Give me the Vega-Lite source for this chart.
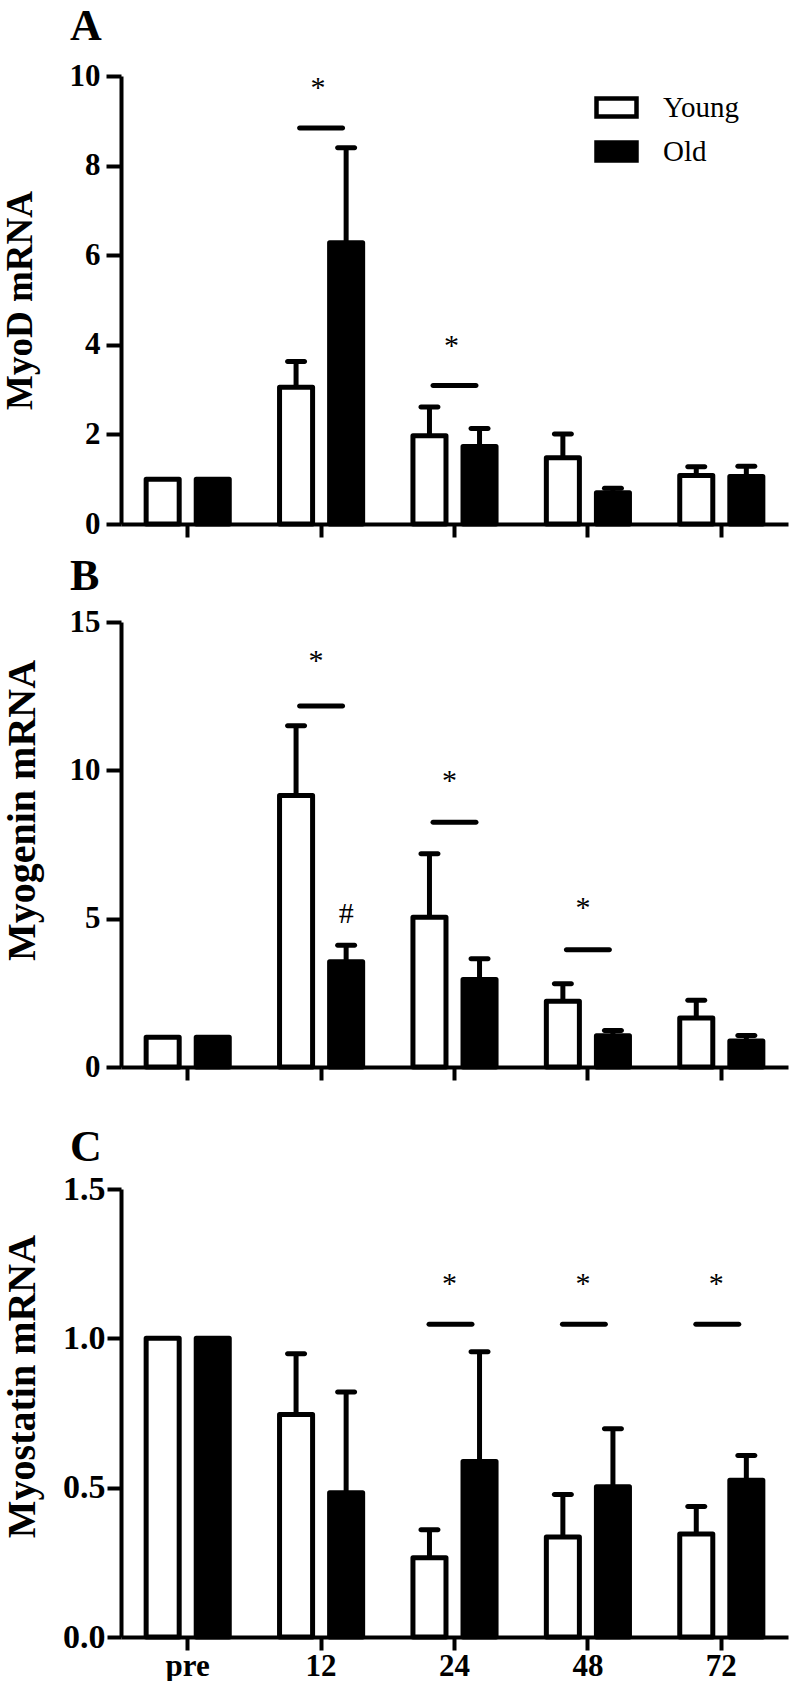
{
  "$schema": "https://vega.github.io/schema/vega-lite/v6.json",
  "padding": {"left": 1, "top": 5, "right": 5, "bottom": 0},
  "background": "white",
  "spacing": 44,
  "config": {
    "view": {"stroke": null},
    "font": "Liberation Serif",
    "axis": {"domainColor": "black", "domainWidth": 4, "tickColor": "black", "tickWidth": 4, "tickSize": 14, "labelFont": "Liberation Serif", "labelFontWeight": "bold", "labelFontSize": 31, "labelColor": "black", "titleFont": "Liberation Serif", "titleFontWeight": "bold", "titleFontSize": 37, "titleColor": "black", "grid": false},
    "title": {"font": "Liberation Serif", "fontWeight": "bold", "fontSize": 44, "anchor": "start", "frame": "group", "color": "black", "baseline": "alphabetic"}
  },
  "datasets": {
    "bars": [
      {"panel": "A", "time": "pre", "group": "Young", "mean": 1.0, "upper": null},
      {"panel": "A", "time": "pre", "group": "Old", "mean": 1.0, "upper": null},
      {"panel": "A", "time": "12", "group": "Young", "mean": 3.05, "upper": 3.63},
      {"panel": "A", "time": "12", "group": "Old", "mean": 6.28, "upper": 8.40},
      {"panel": "A", "time": "24", "group": "Young", "mean": 1.97, "upper": 2.61},
      {"panel": "A", "time": "24", "group": "Old", "mean": 1.73, "upper": 2.13},
      {"panel": "A", "time": "48", "group": "Young", "mean": 1.48, "upper": 2.01},
      {"panel": "A", "time": "48", "group": "Old", "mean": 0.70, "upper": 0.80},
      {"panel": "A", "time": "72", "group": "Young", "mean": 1.08, "upper": 1.28},
      {"panel": "A", "time": "72", "group": "Old", "mean": 1.06, "upper": 1.29},
      {"panel": "B", "time": "pre", "group": "Young", "mean": 1.0, "upper": null},
      {"panel": "B", "time": "pre", "group": "Old", "mean": 1.0, "upper": null},
      {"panel": "B", "time": "12", "group": "Young", "mean": 9.15, "upper": 11.5},
      {"panel": "B", "time": "12", "group": "Old", "mean": 3.55, "upper": 4.10},
      {"panel": "B", "time": "24", "group": "Young", "mean": 5.05, "upper": 7.19},
      {"panel": "B", "time": "24", "group": "Old", "mean": 2.95, "upper": 3.65},
      {"panel": "B", "time": "48", "group": "Young", "mean": 2.22, "upper": 2.81},
      {"panel": "B", "time": "48", "group": "Old", "mean": 1.05, "upper": 1.23},
      {"panel": "B", "time": "72", "group": "Young", "mean": 1.65, "upper": 2.25},
      {"panel": "B", "time": "72", "group": "Old", "mean": 0.88, "upper": 1.06},
      {"panel": "C", "time": "pre", "group": "Young", "mean": 1.0, "upper": null},
      {"panel": "C", "time": "pre", "group": "Old", "mean": 1.0, "upper": null},
      {"panel": "C", "time": "12", "group": "Young", "mean": 0.745, "upper": 0.948},
      {"panel": "C", "time": "12", "group": "Old", "mean": 0.483, "upper": 0.82},
      {"panel": "C", "time": "24", "group": "Young", "mean": 0.265, "upper": 0.359},
      {"panel": "C", "time": "24", "group": "Old", "mean": 0.588, "upper": 0.955},
      {"panel": "C", "time": "48", "group": "Young", "mean": 0.335, "upper": 0.477},
      {"panel": "C", "time": "48", "group": "Old", "mean": 0.503, "upper": 0.697},
      {"panel": "C", "time": "72", "group": "Young", "mean": 0.345, "upper": 0.437},
      {"panel": "C", "time": "72", "group": "Old", "mean": 0.525, "upper": 0.608}
    ],
    "sig": [
      {"panel": "A", "time": "12", "bar": 8.84, "star": 9.88, "label": "*"},
      {"panel": "A", "time": "24", "bar": 3.09, "star": 4.14, "label": "*"},
      {"panel": "B", "time": "12", "bar": 12.17, "star": 13.92, "label": "*"},
      {"panel": "B", "time": "24", "bar": 8.25, "star": 9.88, "label": "*"},
      {"panel": "B", "time": "48", "bar": 3.95, "star": 5.60, "label": "*"},
      {"panel": "C", "time": "24", "bar": 1.047, "star": 1.204, "label": "*"},
      {"panel": "C", "time": "48", "bar": 1.047, "star": 1.204, "label": "*"},
      {"panel": "C", "time": "72", "bar": 1.047, "star": 1.204, "label": "*"}
    ],
    "hash": [
      {"panel": "B", "time": "12", "group": "Old", "y": 5.18, "label": "#"}
    ]
  },
  "resolve": {"scale": {"fill": "independent", "y": "independent"}, "legend": {"fill": "independent"}},
  "vconcat": [
    {
      "spacing": 16,
      "resolve": {"scale": {"fill": "independent", "y": "independent"}, "legend": {"fill": "independent"}},
      "vconcat": [
        {
          "title": {"text": "A", "dx": -51, "offset": 11},
          "width": 667, "height": 448,
          "layer": [
            {
              "data": {"name": "bars"},
              "transform": [{"filter": "datum.panel === 'A' && datum.upper != null"}],
              "mark": {"type": "rule", "strokeWidth": 5, "color": "black"},
              "encoding": {
                "x": {"field": "time", "type": "nominal", "sort": ["pre", "12", "24", "48", "72"], "scale": {"domain": ["pre", "12", "24", "48", "72"], "paddingInner": 0.377, "paddingOuter": 0.1885}, "axis": {"title": null, "labels": false, "tickSize": 13}},
                "xOffset": {"field": "group", "type": "nominal", "scale": {"domain": ["Young", "Old"], "paddingInner": 0.34, "paddingOuter": 0}},
                "y": {"field": "mean", "type": "quantitative", "scale": {"domain": [0, 10], "nice": false}, "axis": {"values": [0, 2, 4, 6, 8, 10], "title": "MyoD mRNA", "tickSize": 15, "labelPadding": 6, "titleX": -90, "titleBaseline": "alphabetic"}},
                "y2": {"field": "upper"}
              }
            },
            {
              "data": {"name": "bars"},
              "transform": [{"filter": "datum.panel === 'A'"}],
              "mark": {"type": "bar", "stroke": "black", "strokeWidth": 5, "strokeJoin": "round"},
              "encoding": {
                "x": {"field": "time", "type": "nominal", "sort": ["pre", "12", "24", "48", "72"]},
                "xOffset": {"field": "group", "type": "nominal"},
                "y": {"field": "mean", "type": "quantitative"},
                "fill": {"field": "group", "type": "nominal", "scale": {"domain": ["Young", "Old"], "range": ["white", "black"]},
                  "legend": {"orient": "none", "legendX": 473, "legendY": 9, "title": null, "direction": "vertical", "symbolType": "M-1,-0.45H1V0.45H-1Z", "symbolSize": 1600, "symbolStrokeColor": "black", "symbolStrokeWidth": 4.5, "symbolOpacity": 1, "labelFont": "Liberation Serif", "labelFontSize": 29, "labelFontWeight": "normal", "labelColor": "black", "labelOffset": 24, "rowPadding": 3, "padding": 0}}
              }
            },
            {
              "data": {"name": "bars"},
              "transform": [{"filter": "datum.panel === 'A' && datum.upper != null"}],
              "mark": {"type": "tick", "size": 22, "thickness": 5, "color": "black", "opacity": 1, "cornerRadius": 2.5},
              "encoding": {
                "x": {"field": "time", "type": "nominal", "sort": ["pre", "12", "24", "48", "72"]},
                "xOffset": {"field": "group", "type": "nominal"},
                "y": {"field": "upper", "type": "quantitative"}
              }
            },
            {
              "data": {"name": "sig"},
              "transform": [{"filter": "datum.panel === 'A'"}],
              "mark": {"type": "tick", "size": 48, "thickness": 5, "color": "black", "opacity": 1, "cornerRadius": 2.5},
              "encoding": {
                "x": {"field": "time", "type": "nominal", "sort": ["pre", "12", "24", "48", "72"]},
                "y": {"field": "bar", "type": "quantitative"}
              }
            },
            {
              "data": {"name": "sig"},
              "transform": [{"filter": "datum.panel === 'A'"}],
              "mark": {"type": "text", "font": "Liberation Serif", "fontSize": 30, "baseline": "alphabetic", "dy": 16, "dx": -3, "color": "black"},
              "encoding": {
                "x": {"field": "time", "type": "nominal", "sort": ["pre", "12", "24", "48", "72"]},
                "y": {"field": "star", "type": "quantitative"},
                "text": {"field": "label"}
              }
            }
          ]
        },
        {
          "title": {"text": "B", "dx": -51, "offset": 7},
          "width": 667, "height": 445,
          "layer": [
            {
              "data": {"name": "bars"},
              "transform": [{"filter": "datum.panel === 'B' && datum.upper != null"}],
              "mark": {"type": "rule", "strokeWidth": 5, "color": "black"},
              "encoding": {
                "x": {"field": "time", "type": "nominal", "sort": ["pre", "12", "24", "48", "72"], "scale": {"domain": ["pre", "12", "24", "48", "72"], "paddingInner": 0.377, "paddingOuter": 0.1885}, "axis": {"title": null, "labels": false, "tickSize": 13}},
                "xOffset": {"field": "group", "type": "nominal", "scale": {"domain": ["Young", "Old"], "paddingInner": 0.34, "paddingOuter": 0}},
                "y": {"field": "mean", "type": "quantitative", "scale": {"domain": [0, 15], "nice": false}, "axis": {"values": [0, 5, 10, 15], "title": "Myogenin mRNA", "tickSize": 15, "labelPadding": 6, "titleFontSize": 40, "titleX": -87, "titleY": 188, "titleBaseline": "alphabetic"}},
                "y2": {"field": "upper"}
              }
            },
            {
              "data": {"name": "bars"},
              "transform": [{"filter": "datum.panel === 'B'"}],
              "mark": {"type": "bar", "stroke": "black", "strokeWidth": 5, "strokeJoin": "round"},
              "encoding": {
                "x": {"field": "time", "type": "nominal", "sort": ["pre", "12", "24", "48", "72"]},
                "xOffset": {"field": "group", "type": "nominal"},
                "y": {"field": "mean", "type": "quantitative"},
                "fill": {"field": "group", "type": "nominal", "scale": {"domain": ["Young", "Old"], "range": ["white", "black"]}, "legend": null}
              }
            },
            {
              "data": {"name": "bars"},
              "transform": [{"filter": "datum.panel === 'B' && datum.upper != null"}],
              "mark": {"type": "tick", "size": 22, "thickness": 5, "color": "black", "opacity": 1, "cornerRadius": 2.5},
              "encoding": {
                "x": {"field": "time", "type": "nominal", "sort": ["pre", "12", "24", "48", "72"]},
                "xOffset": {"field": "group", "type": "nominal"},
                "y": {"field": "upper", "type": "quantitative"}
              }
            },
            {
              "data": {"name": "sig"},
              "transform": [{"filter": "datum.panel === 'B'"}],
              "mark": {"type": "tick", "size": 48, "thickness": 5, "color": "black", "opacity": 1, "cornerRadius": 2.5},
              "encoding": {
                "x": {"field": "time", "type": "nominal", "sort": ["pre", "12", "24", "48", "72"]},
                "y": {"field": "bar", "type": "quantitative"}
              }
            },
            {
              "data": {"name": "sig"},
              "transform": [{"filter": "datum.panel === 'B'"}],
              "mark": {"type": "text", "font": "Liberation Serif", "fontSize": 30, "baseline": "alphabetic", "dy": 16, "dx": -5, "color": "black"},
              "encoding": {
                "x": {"field": "time", "type": "nominal", "sort": ["pre", "12", "24", "48", "72"]},
                "y": {"field": "star", "type": "quantitative"},
                "text": {"field": "label"}
              }
            },
            {
              "data": {"name": "hash"},
              "mark": {"type": "text", "font": "Liberation Serif", "fontSize": 30, "baseline": "alphabetic", "dy": 10, "color": "black"},
              "encoding": {
                "x": {"field": "time", "type": "nominal", "sort": ["pre", "12", "24", "48", "72"]},
                "xOffset": {"field": "group", "type": "nominal"},
                "y": {"field": "y", "type": "quantitative"},
                "text": {"field": "label"}
              }
            }
          ]
        }
      ]
    },
    {
      "title": {"text": "C", "dx": -51, "offset": 2},
      "width": 667, "height": 448,
      "layer": [
        {
          "data": {"name": "bars"},
          "transform": [{"filter": "datum.panel === 'C' && datum.upper != null"}],
          "mark": {"type": "rule", "strokeWidth": 5, "color": "black"},
          "encoding": {
            "x": {"field": "time", "type": "nominal", "sort": ["pre", "12", "24", "48", "72"], "scale": {"domain": ["pre", "12", "24", "48", "72"], "paddingInner": 0.377, "paddingOuter": 0.1885}, "axis": {"title": null, "labels": true, "labelAngle": 0, "labelPadding": 1, "tickSize": 13}},
            "xOffset": {"field": "group", "type": "nominal", "scale": {"domain": ["Young", "Old"], "paddingInner": 0.34, "paddingOuter": 0}},
            "y": {"field": "mean", "type": "quantitative", "scale": {"domain": [0, 1.5], "nice": false}, "axis": {"values": [0, 0.5, 1, 1.5], "format": ".1f", "title": "Myostatin mRNA", "tickSize": 14, "labelFontSize": 34, "labelPadding": 2, "titleFontSize": 40, "titleX": -87, "titleY": 197, "titleBaseline": "alphabetic"}},
            "y2": {"field": "upper"}
          }
        },
        {
          "data": {"name": "bars"},
          "transform": [{"filter": "datum.panel === 'C'"}],
          "mark": {"type": "bar", "stroke": "black", "strokeWidth": 5, "strokeJoin": "round"},
          "encoding": {
            "x": {"field": "time", "type": "nominal", "sort": ["pre", "12", "24", "48", "72"]},
            "xOffset": {"field": "group", "type": "nominal"},
            "y": {"field": "mean", "type": "quantitative"},
            "fill": {"field": "group", "type": "nominal", "scale": {"domain": ["Young", "Old"], "range": ["white", "black"]}, "legend": null}
          }
        },
        {
          "data": {"name": "bars"},
          "transform": [{"filter": "datum.panel === 'C' && datum.upper != null"}],
          "mark": {"type": "tick", "size": 22, "thickness": 5, "color": "black", "opacity": 1, "cornerRadius": 2.5},
          "encoding": {
            "x": {"field": "time", "type": "nominal", "sort": ["pre", "12", "24", "48", "72"]},
            "xOffset": {"field": "group", "type": "nominal"},
            "y": {"field": "upper", "type": "quantitative"}
          }
        },
        {
          "data": {"name": "sig"},
          "transform": [{"filter": "datum.panel === 'C'"}],
          "mark": {"type": "tick", "size": 48, "thickness": 5, "color": "black", "opacity": 1, "cornerRadius": 2.5, "xOffset": -4},
          "encoding": {
            "x": {"field": "time", "type": "nominal", "sort": ["pre", "12", "24", "48", "72"]},
            "y": {"field": "bar", "type": "quantitative"}
          }
        },
        {
          "data": {"name": "sig"},
          "transform": [{"filter": "datum.panel === 'C'"}],
          "mark": {"type": "text", "font": "Liberation Serif", "fontSize": 30, "baseline": "alphabetic", "dy": 16, "dx": -5, "color": "black"},
          "encoding": {
            "x": {"field": "time", "type": "nominal", "sort": ["pre", "12", "24", "48", "72"]},
            "y": {"field": "star", "type": "quantitative"},
            "text": {"field": "label"}
          }
        }
      ]
    }
  ]
}
